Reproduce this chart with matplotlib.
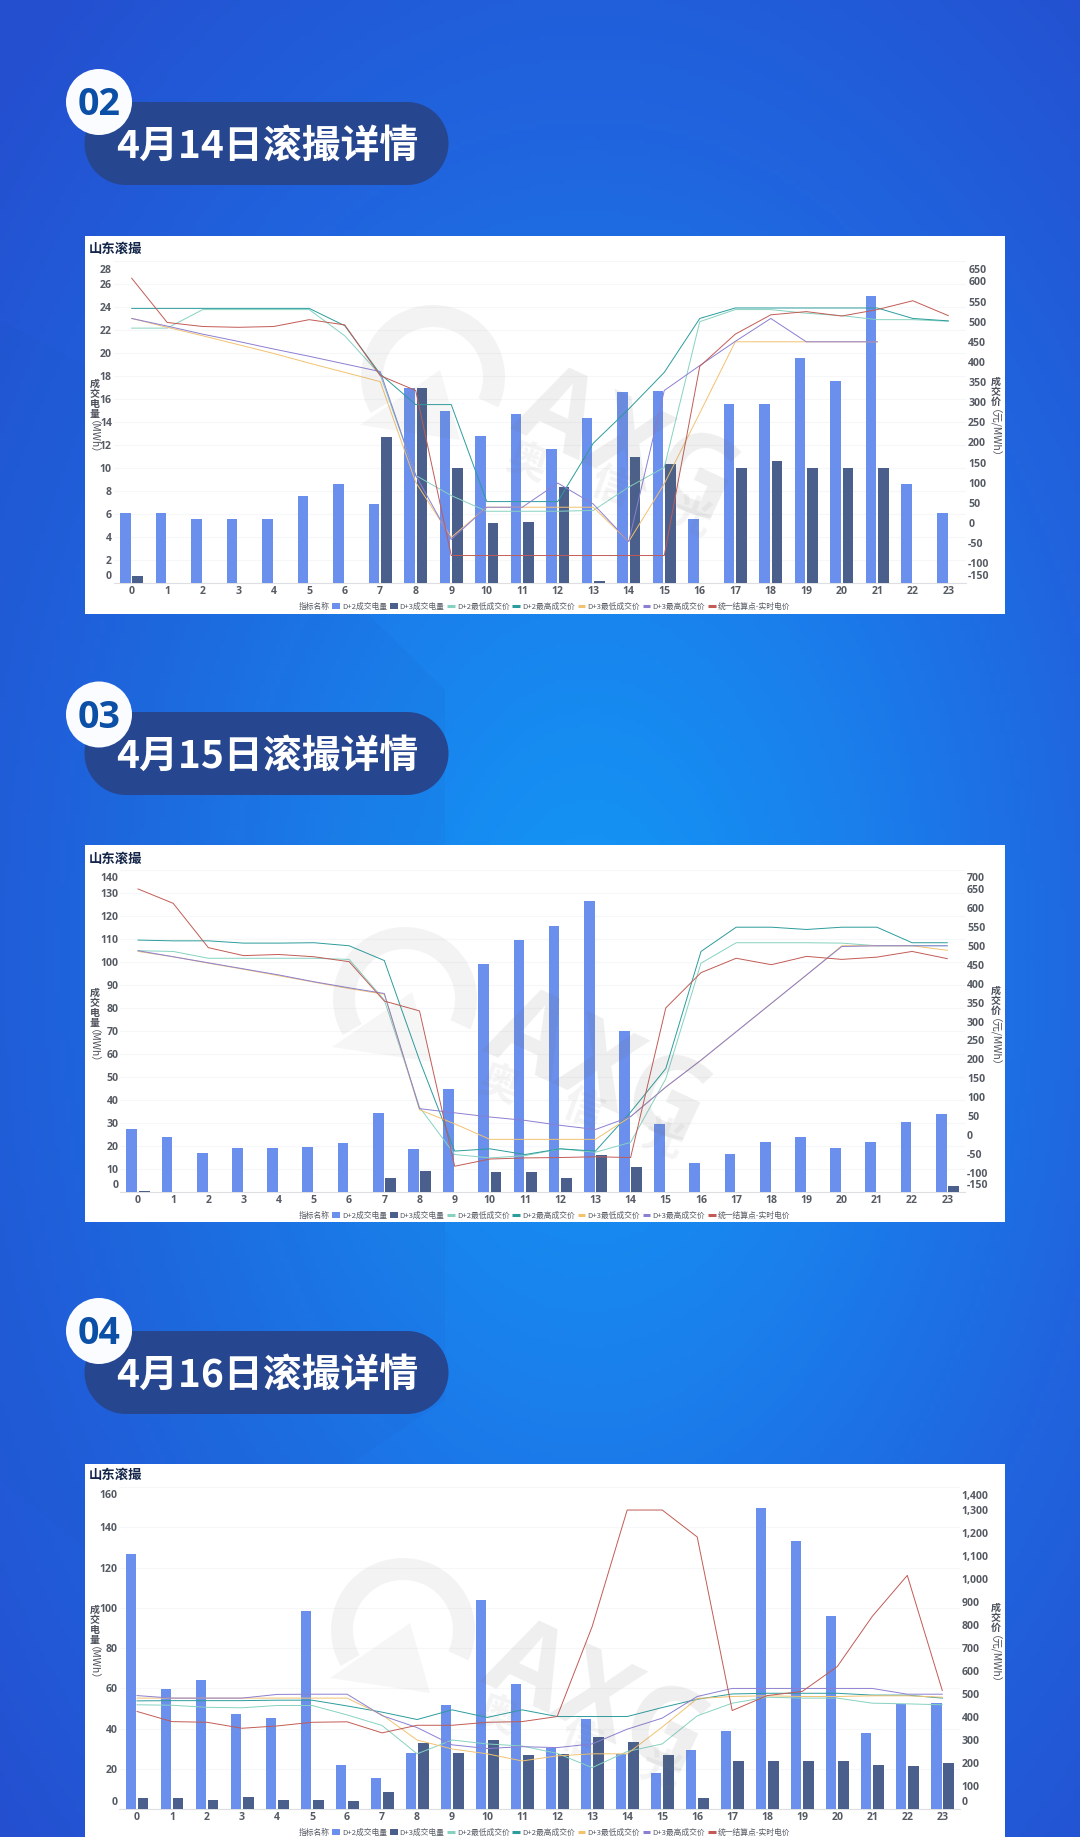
import numpy as np
import matplotlib
matplotlib.use("Agg")
import matplotlib.pyplot as plt
from matplotlib.patches import Rectangle, Circle, Wedge, Polygon, Patch
from matplotlib.lines import Line2D
from matplotlib.transforms import ScaledTranslation
from matplotlib.colors import LinearSegmentedColormap

plt.rcParams['font.family'] = ['Noto Sans CJK SC', 'DejaVu Sans']

W, H = 1080, 1837
hours = list(range(24))
series_names = ['D+2成交电量', 'D+3成交电量', 'D+2最低成交价', 'D+2最高成交价',
                'D+3最低成交价', 'D+3最高成交价', '统一结算点-实时电价']
legend_title = '指标名称'
chart_title = '山东滚撮'

# ---------- 4月14日 ----------
a14_d2_vol = [6.1, 6.1, 5.6, 5.6, 5.6, 7.6, 8.6, 6.9, 17, 15, 12.8, 14.7, 11.7, 14.4, 16.6, 16.7, 5.6, 15.6, 15.6, 19.6, 17.6, 25, 8.6, 6.1]
a14_d3_vol = [0.6, 0, 0, 0, 0, 0, 0, 12.7, 17, 10, 5.2, 5.3, 8.4, 0.2, 11, 10.4, 0, 10, 10.6, 10, 10, 10, 0, 0]
a14_d2_low = [484, 484, 530, 530, 530, 530, 465, 368, 118, 68, 29, 29, 29, 31, 89, 138, 500, 530, 530, 521, 515, 505, 505, 501]
a14_d2_high = [533, 533, 533, 533, 533, 533, 490, 370, 294, 294, 53, 53, 53, 198, 283, 374, 508, 534, 534, 534, 534, 534, 508, 502]
a14_d3_low = [508, 486, 465, 443, 421, 397, 374, 351, 101, -36, 39, 39, 39, 39, -46, 97, 273, 450, 450, 450, 450, 450, None, None]
a14_d3_high = [508, 489, 469, 451, 432, 414, 395, 376, 118, -41, 39, 39, 99, 47, -46, 329, 391, 451, 508, 450, 450, 450, None, None]
a14_rt = [608, 498, 488, 486, 488, 505, 492, 366, 329, -81, -81, -81, -81, -81, -81, -81, 389, 469, 517, 525, 514, 530, 552, 515]
a14_left_ticks = list(range(0, 29, 2))
a14_right_ticks = list(range(-150, 651, 50))

# ---------- 4月15日 ----------
a15_d2_vol = [27.2, 23.9, 17.1, 19.1, 19.1, 19.6, 21.2, 34.5, 18.6, 44.8, 99.1, 109.7, 115.7, 126.5, 70.1, 29.7, 12.6, 16.4, 21.7, 23.8, 19.1, 21.7, 30.4, 33.8]
a15_d3_vol = [0.4, 0, 0, 0, 0, 0, 0, 6.2, 9, 0, 8.8, 8.8, 6.1, 16.1, 10.9, 0, 0, 0, 0, 0, 0.1, 0.1, 0.1, 2.8]
a15_d2_low = [487, 485, 467, 467, 467, 467, 464, 357, 74, -51, -60, -54, -36, -45, -19, 149, 454, 508, 508, 508, 507, 500, 500, 500]
a15_d2_high = [515, 513, 513, 507, 507, 508, 500, 461, 198, -42, -36, -51, -36, -42, 61, 176, 485, 549, 549, 543, 549, 549, 508, 508]
a15_d3_low = [485, 471, 454, 438, 421, 404, 387, 372, 67, 30, -11, -11, -11, -11, 49, 127, 198, 273, 348, 423, 500, 500, 500, 488]
a15_d3_high = [487, 471, 455, 439, 423, 405, 389, 374, 70, 59, 48, 39, 26, 15, 49, 127, 198, 273, 348, 423, 498, 500, 500, 500]
a15_rt = [650, 612, 495, 474, 477, 471, 458, 354, 328, -82, -63, -60, -59, -57, -59, 336, 429, 467, 450, 472, 464, 470, 485, 466]
a15_left_ticks = list(range(0, 141, 10))
a15_right_ticks = list(range(-150, 701, 50))

# ---------- 4月16日 ----------
a16_d2_vol = [126.6, 59.5, 64.3, 47.4, 45.5, 98.5, 22.1, 15.4, 27.9, 51.7, 104, 62.1, 30.2, 45, 27.3, 17.9, 29.4, 38.8, 149.8, 133.2, 96, 37.9, 52.4, 53]
a16_d3_vol = [5.6, 5.5, 4.5, 6.1, 4.8, 4.8, 4.1, 8.8, 32.9, 28.1, 34.2, 26.8, 27.4, 36, 33.2, 26.8, 5.6, 24, 24, 24, 24, 22.1, 21.3, 23]
a16_d2_low = [454, 452, 443, 441, 451, 451, 410, 364, 241, 301, 284, 275, 243, 181, 251, 284, 406, 461, 487, 483, 483, 461, 458, 454]
a16_d2_high = [471, 472, 472, 472, 474, 474, 449, 422, 390, 432, 399, 432, 403, 403, 403, 442, 478, 501, 504, 504, 504, 496, 496, 483]
a16_d3_low = [483, 483, 483, 483, 483, 483, 483, 410, 301, 262, 241, 210, 232, 241, 241, 357, 481, 490, 493, 490, 490, 493, 493, 487]
a16_d3_high = [494, 483, 483, 483, 499, 500, 500, 407, 355, 280, 264, 272, 268, 284, 348, 396, 490, 525, 525, 525, 525, 525, 500, 500]
a16_rt = [425, 381, 378, 352, 362, 378, 380, 332, 365, 365, 378, 381, 403, 794, 1300, 1300, 1183, 429, 494, 512, 620, 838, 1016, 516]
a16_left_ticks = list(range(0, 161, 20))
a16_right_ticks = list(range(0, 1401, 100))

C_D2, C_D3 = '#6A8FEC', '#4A5F8B'
C_LOW, C_HIGH = '#86D2C0', '#2C9C9C'
C_D3LOW, C_D3HIGH, C_RT = '#F2C270', '#8C7FD2', '#C25B55'
TICK = '#555A63'
AXIS_NAME = '#4A4F59'

fig = plt.figure(figsize=(W / 100, H / 100), dpi=100)

def px_axes(x0, y0, x1, y1, **kw):
    return fig.add_axes([x0 / W, 1 - y1 / H, (x1 - x0) / W, (y1 - y0) / H], **kw)

# ---------- page background ----------
bg = px_axes(0, 0, W, H)
bg.set_xlim(0, W); bg.set_ylim(H, 0); bg.axis('off')
xx, yy = np.meshgrid(np.linspace(0, W, 216), np.linspace(0, H, 368))
dist = np.sqrt(((xx - 590) / 640) ** 2 + ((yy - 960) / 1010) ** 2)
cmap = LinearSegmentedColormap.from_list('page', ['#1298F6', '#1A80EC', '#2064DE', '#2450D0'])
bg.imshow(np.clip(dist, 0, 1.25), cmap=cmap, extent=(0, W, H, 0), aspect='auto', zorder=0)
bg.set_xlim(0, W); bg.set_ylim(H, 0)
bg.add_patch(Polygon([(0, 320), (150, 400), (445, 690), (445, 1400), (150, 1600), (0, 1480)],
                     closed=True, fc='#1C50B8', ec='none', alpha=0.08, zorder=1))

panels = [(236, 614), (845, 1222), (1464, 1837)]
for y0, y1 in panels:
    bg.add_patch(Rectangle((85, y0), 920, y1 - y0, fc='white', ec='none', zorder=2))

headers = [('02', '4月14日滚撮详情', 102, 102), ('03', '4月15日滚撮详情', 712, 714.5), ('04', '4月16日滚撮详情', 1331, 1331)]
for num, text, y_p, y_c in headers:
    bg.add_patch(Rectangle((126, y_p), 281, 83, fc='#264690', ec='none', zorder=3))
    bg.add_patch(Circle((126, y_p + 41.5), 41.5, fc='#264690', ec='none', zorder=3))
    bg.add_patch(Circle((407, y_p + 41.5), 41.5, fc='#264690', ec='none', zorder=3))
    bg.add_patch(Circle((99, y_c), 33, fc='#FAFCFF', ec='none', zorder=4))
    bg.text(99, y_c + 3, num, color='#0B4FA6', fontsize=27, fontweight='bold', ha='center', va='center',
            family=['Open Sans', 'Noto Sans'], zorder=5)
    bg.text(267, y_p + 44.5, text, color='white', fontsize=28, fontweight='bold', ha='center', va='center', zorder=5)

def offset_label(label, px):
    label.set_transform(label.get_transform() + ScaledTranslation(0, px / 100, fig.dpi_scale_trans))

def chart(x_first, x_last, top, base, title_y, legend_y, d2v, d3v, lows, highs, d3lows, d3highs, rts,
          lticks, rticks, rfmt, lab_y):
    step = (x_last - x_first) / 23
    ax = px_axes(x_first - step / 2, top, x_last + step / 2, base)
    ax.patch.set_alpha(0)
    x = np.arange(24)
    ax.bar(x - 0.175, d2v, 0.305, color=C_D2, zorder=3)
    ax.bar(x + 0.175, d3v, 0.305, color=C_D3, zorder=3)
    ax.set_xlim(-0.5, 23.5)
    ax.set_ylim(lticks[0], lticks[-1])
    ax.set_xticks(x, [str(h) for h in hours])
    ax.set_yticks(lticks, [str(v) for v in lticks])
    ax.grid(axis='y', color='#F6F7F8', lw=0.8, zorder=0)
    ax.set_axisbelow(True)
    for s in ['top', 'left', 'right']:
        ax.spines[s].set_visible(False)
    ax.spines['bottom'].set_color('#DDDFE3')
    ax.tick_params(axis='both', length=0, labelsize=7.6, labelcolor=TICK)
    ax.tick_params(axis='y', pad=1.5)
    ax.tick_params(axis='x', pad=2.2)

    ax2 = ax.twinx()
    ax2.patch.set_alpha(0)
    ax2.set_ylim(rticks[0], rticks[-1])
    ax2.set_yticks(rticks, [rfmt(v) for v in rticks])
    for s in ax2.spines.values():
        s.set_visible(False)
    ax2.tick_params(axis='y', length=0, labelsize=7.6, labelcolor=TICK, pad=1.5)
    for ys, c in [(lows, C_LOW), (highs, C_HIGH), (d3lows, C_D3LOW), (d3highs, C_D3HIGH), (rts, C_RT)]:
        vals = [np.nan if v is None else v for v in ys]
        ax2.plot(x, vals, color=c, lw=0.7, zorder=4)

    for lab_list in (ax.get_yticklabels(), ax2.get_yticklabels()):
        offset_label(lab_list[0], 8.3)
        offset_label(lab_list[-1], -7.5)
    for lab in list(ax.get_yticklabels()) + list(ax.get_xticklabels()) + list(ax2.get_yticklabels()):
        lab.set_fontfamily(['Open Sans', 'Noto Sans'])
        lab.set_fontweight('bold')

    bg.text(89, title_y, chart_title, fontsize=9.6, fontweight='bold', color='#14264A', va='center', ha='left', zorder=5)
    for i, ch in enumerate('成交电量'):
        bg.text(94.5, lab_y + 7 + i * 10, ch, fontsize=7.2, color=AXIS_NAME, fontweight='bold', ha='center', va='center', zorder=5)
    bg.text(87.5, lab_y + 65.7, '（MWh）', fontsize=7.5, color=AXIS_NAME, rotation=-90, rotation_mode='anchor',
            ha='center', va='center', zorder=5)
    for i, ch in enumerate('成交价'):
        bg.text(995.5, lab_y + 5 + i * 10, ch, fontsize=7.2, color=AXIS_NAME, fontweight='bold', ha='center', va='center', zorder=5)
    bg.text(988.5, lab_y + 62, '（元/MWh）', fontsize=7.5, color=AXIS_NAME, rotation=-90, rotation_mode='anchor',
            ha='center', va='center', zorder=5)

    handles = [Line2D([], [], color='none'),
               Patch(fc=C_D2), Patch(fc=C_D3),
               Line2D([], [], color=C_LOW, lw=2.2, solid_capstyle='butt'),
               Line2D([], [], color=C_HIGH, lw=2.2, solid_capstyle='butt'),
               Line2D([], [], color=C_D3LOW, lw=2.2, solid_capstyle='butt'),
               Line2D([], [], color=C_D3HIGH, lw=2.2, solid_capstyle='butt'),
               Line2D([], [], color=C_RT, lw=2.2, solid_capstyle='butt')]
    labels = [legend_title] + series_names
    leg = ax.legend(handles, labels, ncol=8, loc='center', frameon=False,
                    bbox_to_anchor=(539.5 / W, 1 - legend_y / H), bbox_transform=fig.transFigure,
                    fontsize=5.6, handlelength=1.0, handleheight=0.8, handletextpad=0.25, columnspacing=0.35,
                    borderpad=0, borderaxespad=0)
    for t in leg.get_texts():
        t.set_color('#555A63')
    return ax, ax2

rfmt_plain = lambda v: str(v)
rfmt_comma = lambda v: f'{v:,}'
chart(131.7, 948.3, 261.3, 583.3, 249, 607, a14_d2_vol, a14_d3_vol, a14_d2_low, a14_d2_high, a14_d3_low, a14_d3_high, a14_rt,
      a14_left_ticks, a14_right_ticks, rfmt_plain, 377)
chart(138, 947.3, 870, 1192, 859, 1216, a15_d2_vol, a15_d3_vol, a15_d2_low, a15_d2_high, a15_d3_low, a15_d3_high, a15_rt,
      a15_left_ticks, a15_right_ticks, rfmt_plain, 986)
chart(137, 942.3, 1487, 1809.3, 1475, 1832.5, a16_d2_vol, a16_d3_vol, a16_d2_low, a16_d2_high, a16_d3_low, a16_d3_high, a16_rt,
      a16_left_ticks, a16_right_ticks, rfmt_comma, 1603)

# ---------- watermark ----------
wm = px_axes(0, 0, W, H, zorder=20)
wm.set_xlim(0, W); wm.set_ylim(H, 0); wm.axis('off'); wm.patch.set_alpha(0)
WM = '#6E6E6E'
for (dx, dy) in [(0, 0), (-28, 622), (-30, 1253)]:
    wm.add_patch(Wedge((433 + dx, 377 + dy), 72, 150, 385, width=22, fc=WM, ec='none', alpha=0.08))
    wm.add_patch(Polygon([(360 + dx, 425 + dy), (440 + dx, 370 + dy), (460 + dx, 440 + dy)], closed=True, fc=WM, ec='none', alpha=0.06))
    wm.text(625 + dx, 450 + dy, 'AXG', fontsize=80, fontweight='bold', color=WM, alpha=0.11, rotation=-25,
            rotation_mode='anchor', ha='center', va='center', family=['Open Sans', 'Noto Sans'])
    for ch, px_, py_ in [('奥', 527, 463), ('信', 610, 487), ('光', 690, 517)]:
        wm.text(px_ + dx, py_ + dy, ch, fontsize=29, fontweight='bold', color=WM, alpha=0.08, rotation=-20,
                ha='center', va='center')

fig.savefig('out.png', dpi=100)
